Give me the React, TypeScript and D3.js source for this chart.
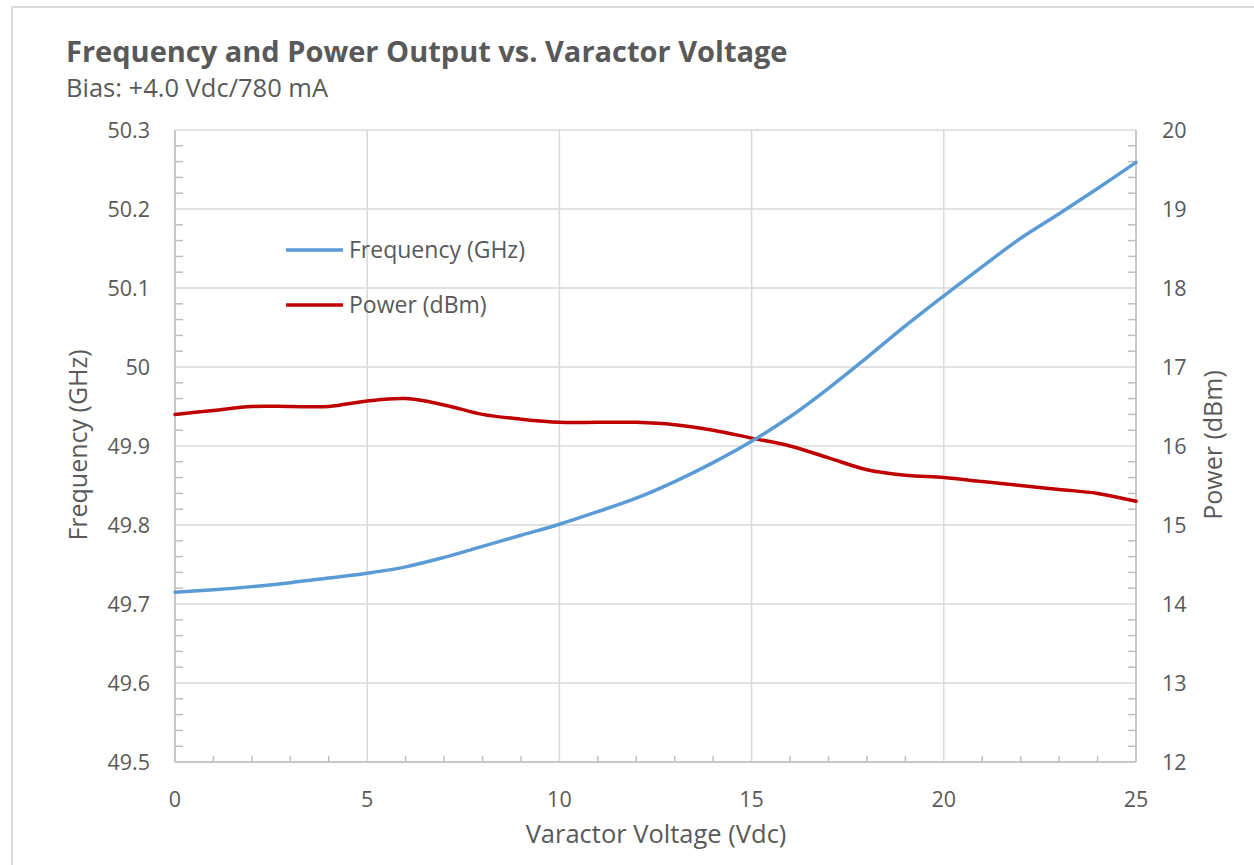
import React from 'react';
import * as d3 from 'd3';

// data
const voltage = [0, 1, 2, 3, 4, 5, 6, 7, 8, 9, 10, 11, 12, 13, 14, 15, 16, 17, 18, 19, 20, 21, 22, 23, 24, 25];
const frequency = [49.715, 49.718, 49.722, 49.727, 49.733, 49.739, 49.747, 49.759, 49.773, 49.787, 49.801, 49.817, 49.834, 49.855, 49.879, 49.906, 49.937, 49.973, 50.012, 50.052, 50.09, 50.127, 50.163, 50.194, 50.226, 50.259];
const power = [16.4, 16.45, 16.5, 16.5, 16.5, 16.57, 16.6, 16.52, 16.4, 16.34, 16.3, 16.3, 16.3, 16.27, 16.2, 16.1, 16.0, 15.85, 15.7, 15.63, 15.6, 15.55, 15.5, 15.45, 15.4, 15.3];
const xTicks = [0, 5, 10, 15, 20, 25];
const freqTicks = [49.5, 49.6, 49.7, 49.8, 49.9, 50, 50.1, 50.2, 50.3];
const powerTicks = [12, 13, 14, 15, 16, 17, 18, 19, 20];

const W = 1254;
const H = 865;
const FONT = "'Open Sans', 'Noto Sans', sans-serif";
const TXT = '#595959';
const GRID = '#d9d9d9';
const AXIS = '#bfbfbf';
const BLUE = '#5b9bd5';
const RED = '#c00000';

const App = () => {
  const left = 175, right = 1136, top = 130, bottom = 762;

  const x = d3.scaleLinear().domain([0, 25]).range([left, right]);
  const yF = d3.scaleLinear().domain([49.5, 50.3]).range([bottom, top]);
  const yP = d3.scaleLinear().domain([12, 20]).range([bottom, top]);

  const freqLine = d3
    .line<number>()
    .x((d, i) => x(voltage[i]))
    .y((d) => yF(d))
    .curve(d3.curveCatmullRom.alpha(0.5));
  const powerLine = d3
    .line<number>()
    .x((d, i) => x(voltage[i]))
    .y((d) => yP(d))
    .curve(d3.curveCatmullRom.alpha(0.5));

  const xMinor = d3.range(0, 26, 1).filter((v) => v % 5 !== 0);
  const yMinor = d3.range(0, 41).map((i) => 49.5 + i * 0.02).filter((_, i) => i % 5 !== 0);
  const pMinor = d3.range(0, 41).map((i) => 12 + i * 0.2).filter((_, i) => i % 5 !== 0);

  return (
    <svg width={W} height={H} style={{ position: 'fixed', left: 0, top: 0, background: '#fff' }} fontFamily={FONT}>
      <rect x={12} y={7} width={W + 20} height={H + 20} fill="#fff" stroke={GRID} strokeWidth={2} />

      <text x={66} y={62} fontSize={29} fontWeight="bold" fill={TXT}>Frequency and Power Output vs. Varactor Voltage</text>
      <text x={66} y={97} fontSize={25.5} fill={TXT}>Bias: +4.0 Vdc/780 mA</text>

      {/* gridlines */}
      {freqTicks.map((t) => (
        <line key={'gy' + t} x1={left} x2={right} y1={yF(t)} y2={yF(t)} stroke={GRID} strokeWidth={1.5} />
      ))}
      {xTicks.map((t) => (
        <line key={'gx' + t} x1={x(t)} x2={x(t)} y1={top} y2={bottom} stroke={GRID} strokeWidth={1.5} />
      ))}

      {/* axes */}
      <line x1={left} x2={left} y1={top} y2={bottom} stroke={AXIS} strokeWidth={1.5} />
      <line x1={right} x2={right} y1={top} y2={bottom} stroke={AXIS} strokeWidth={1.5} />
      <line x1={left} x2={right} y1={bottom} y2={bottom} stroke={AXIS} strokeWidth={1.5} />
      {yMinor.map((t) => (
        <line key={'my' + t} x1={left} x2={left + 8} y1={yF(t)} y2={yF(t)} stroke={AXIS} strokeWidth={1.5} />
      ))}
      {pMinor.map((t) => (
        <line key={'mp' + t} x1={right - 8} x2={right} y1={yP(t)} y2={yP(t)} stroke={AXIS} strokeWidth={1.5} />
      ))}
      {xMinor.map((t) => (
        <line key={'mx' + t} x1={x(t)} x2={x(t)} y1={bottom - 6} y2={bottom} stroke={AXIS} strokeWidth={1.5} />
      ))}

      {/* tick labels */}
      {freqTicks.map((t) => (
        <text key={'ly' + t} x={150} y={yF(t) + 8} fontSize={21.5} fill={TXT} textAnchor="end">{d3.format('')(+t.toFixed(1))}</text>
      ))}
      {powerTicks.map((t) => (
        <text key={'lp' + t} x={1162} y={yP(t) + 8} fontSize={21.5} fill={TXT}>{t}</text>
      ))}
      {xTicks.map((t) => (
        <text key={'lx' + t} x={x(t)} y={807} fontSize={21.5} fill={TXT} textAnchor="middle">{t}</text>
      ))}

      {/* axis titles */}
      <text x={656} y={843} fontSize={25.5} fill={TXT} textAnchor="middle">Varactor Voltage (Vdc)</text>
      <text transform={`translate(87,445) rotate(-90)`} fontSize={25} fill={TXT} textAnchor="middle">Frequency (GHz)</text>
      <text transform={`translate(1222,445) rotate(-90)`} fontSize={25} fill={TXT} textAnchor="middle">Power (dBm)</text>

      {/* series */}
      <path d={powerLine(power) ?? ''} fill="none" stroke={RED} strokeWidth={3.5} strokeLinecap="round" />
      <path d={freqLine(frequency) ?? ''} fill="none" stroke={BLUE} strokeWidth={3.5} strokeLinecap="round" />

      {/* legend */}
      <line x1={286} x2={343} y1={250} y2={250} stroke={BLUE} strokeWidth={3.5} />
      <text x={349} y={258} fontSize={23} fill={TXT}>Frequency (GHz)</text>
      <line x1={286} x2={343} y1={305} y2={305} stroke={RED} strokeWidth={3.5} />
      <text x={349} y={313} fontSize={23} fill={TXT}>Power (dBm)</text>
    </svg>
  );
};

export default App;
